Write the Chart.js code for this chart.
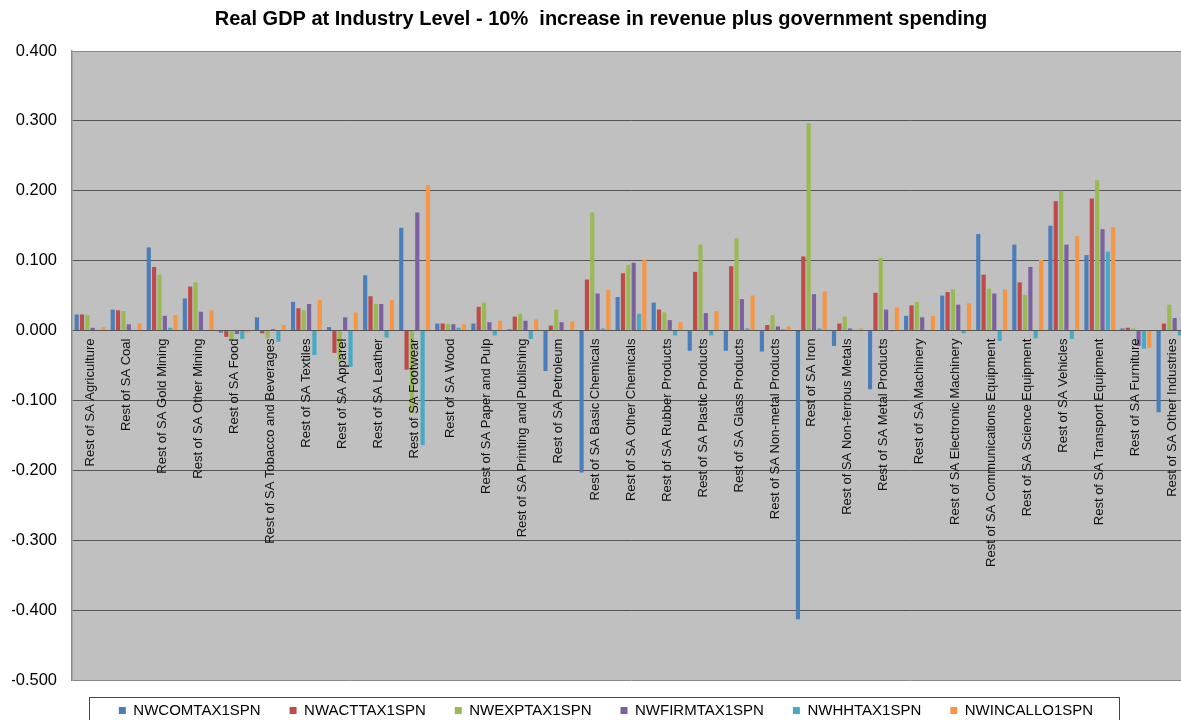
<!DOCTYPE html>
<html>
<head>
<meta charset="utf-8">
<title>Real GDP at Industry Level</title>
<script src="https://cdn.jsdelivr.net/npm/chart.js@4"></script>
<style>
  html, body { margin: 0; padding: 0; background: #fff; overflow: hidden; }
  #wrap { width: 1181px; height: 720px; overflow: hidden; }
</style>
</head>
<body>
<div id="wrap"><canvas id="gdpChart" width="1202" height="734"></canvas></div>
<script>
const industries = [
  "Rest of SA Agriculture", "Rest of SA Coal", "Rest of SA Gold Mining", "Rest of SA Other Mining",
  "Rest of SA Food", "Rest of SA Tobacco and Beverages", "Rest of SA Textiles", "Rest of SA Apparel",
  "Rest of SA Leather", "Rest of SA Footwear", "Rest of SA Wood", "Rest of SA Paper and Pulp",
  "Rest of SA Printing and Publishing", "Rest of SA Petroleum", "Rest of SA Basic Chemicals",
  "Rest of SA Other Chemicals", "Rest of SA Rubber Products", "Rest of SA Plastic Products",
  "Rest of SA Glass Products", "Rest of SA Non-metal Products", "Rest of SA Iron",
  "Rest of SA Non-ferrous Metals", "Rest of SA Metal Products", "Rest of SA Machinery",
  "Rest of SA Electronic Machinery", "Rest of SA Communications Equipment", "Rest of SA Science Equipment",
  "Rest of SA Vehicles", "Rest of SA Transport Equipment", "Rest of SA Furniture", "Rest of SA Other Industries"
];

const seriesNames = ["NWCOMTAX1SPN", "NWACTTAX1SPN", "NWEXPTAX1SPN", "NWFIRMTAX1SPN", "NWHHTAX1SPN", "NWINCALLO1SPN"];

const nwComTax = [0.023, 0.030, 0.119, 0.046, -0.003, 0.019, 0.041, 0.005, 0.079, 0.147, 0.010, 0.010, 0.002, -0.058, -0.203, 0.048,
  0.040, -0.029, -0.029, -0.030, -0.413, -0.022, -0.084, 0.021, 0.050, 0.138, 0.123, 0.150, 0.108, 0.003, -0.117];
const nwActTax = [0.023, 0.029, 0.091, 0.063, -0.009, -0.004, 0.032, -0.032, 0.049, -0.056, 0.010, 0.034, 0.020, 0.007, 0.073, 0.082,
  0.030, 0.084, 0.092, 0.008, 0.106, 0.010, 0.054, 0.036, 0.055, 0.080, 0.069, 0.185, 0.189, 0.004, 0.010];
const nwExpTax = [0.022, 0.028, 0.080, 0.069, -0.013, -0.011, 0.029, -0.044, 0.038, -0.118, 0.009, 0.040, 0.024, 0.030, 0.169, 0.094,
  0.026, 0.123, 0.132, 0.022, 0.297, 0.020, 0.104, 0.041, 0.059, 0.060, 0.051, 0.200, 0.215, 0.003, 0.037];
const nwFirmTax = [0.004, 0.009, 0.021, 0.027, -0.005, 0.002, 0.038, 0.019, 0.038, 0.169, 0.009, 0.012, 0.014, 0.012, 0.053, 0.097,
  0.015, 0.025, 0.045, 0.006, 0.052, 0.003, 0.030, 0.019, 0.037, 0.053, 0.091, 0.123, 0.145, -0.022, 0.018];
const nwHhTax = [0.001, 0.001, 0.004, 0.001, -0.012, -0.016, -0.035, -0.052, -0.010, -0.164, 0.004, -0.007, -0.012, 0.001, 0.003, 0.024,
  -0.007, -0.007, 0.003, 0.002, 0.003, 0.001, -0.001, 0.001, -0.004, -0.015, -0.011, -0.012, 0.113, -0.026, -0.007];
const nwIncAllo = [0.005, 0.010, 0.022, 0.029, -0.003, 0.008, 0.044, 0.026, 0.044, 0.208, 0.009, 0.014, 0.016, 0.013, 0.058, 0.101,
  0.012, 0.028, 0.050, 0.006, 0.056, 0.003, 0.033, 0.021, 0.039, 0.059, 0.101, 0.135, 0.148, -0.025, 0.005];

const yTicks = [0.4, 0.3, 0.2, 0.1, 0, -0.1, -0.2, -0.3, -0.4, -0.5];

const colors = ["#4a7ebb", "#be4b48", "#98b954", "#7d60a0", "#46aac5", "#f69544"];
const allSeries = [nwComTax, nwActTax, nwExpTax, nwFirmTax, nwHhTax, nwIncAllo];

const FONT = "'Liberation Sans', Arial, sans-serif";

// grey plot area like the excel chart
const plotBg = {
  id: "plotBg",
  beforeDraw(chart) {
    const a = chart.chartArea, c = chart.ctx;
    c.save();
    c.fillStyle = "#c0c0c0";
    c.fillRect(a.left, a.top, a.right - a.left, a.bottom - a.top);
    c.restore();
  }
};

// pull the legend up a bit so it sits closer to the plot, and a touch right
const legendNudge = {
  id: "legendNudge",
  afterLayout(chart) {
    const lg = chart.legend;
    if (!lg) return;
    lg.top -= 6;
    lg.bottom -= 6;
    lg.left += 5;
    lg.right += 5;
  }
};

// category names sit rotated just under the zero line
const zeroLabels = {
  id: "zeroLabels",
  afterDatasetsDraw(chart) {
    const c = chart.ctx, xs = chart.scales.x, ys = chart.scales.y;
    const y0 = ys.getPixelForValue(0) + 8;
    c.save();
    c.font = "13px " + FONT;
    c.fillStyle = "#111";
    c.textAlign = "right";
    c.textBaseline = "middle";
    industries.forEach((name, i) => {
      c.save();
      c.translate(xs.getPixelForValue(i), y0);
      c.rotate(-Math.PI / 2);
      c.fillText(name, 0, 0);
      c.restore();
    });
    c.restore();
  }
};

// frame round the legend
const legendFrame = {
  id: "legendFrame",
  afterDraw(chart) {
    const boxes = chart.legend && chart.legend.legendHitBoxes;
    if (!boxes || !boxes.length) return;
    const first = boxes[0], last = boxes[boxes.length - 1];
    const c = chart.ctx;
    c.save();
    c.strokeStyle = "#444";
    c.lineWidth = 1;
    c.strokeRect(Math.round(first.left - 30) + 0.5, Math.round(first.top - 6) + 0.5,
      Math.round(last.left + last.width + 26 - (first.left - 30)), 60);
    c.restore();
  }
};

const ctx = document.getElementById("gdpChart");

const myChart = new Chart(ctx, {
  type: "bar",
  data: {
    labels: industries,
    datasets: seriesNames.map((name, k) => ({
      label: name,
      data: allSeries[k],
      backgroundColor: colors[k],
      borderWidth: 0,
      categoryPercentage: 0.89,
      barPercentage: 0.78
    }))
  },
  options: {
    responsive: false,
    animation: false,
    devicePixelRatio: 1,
    layout: { padding: { left: 12, right: 12, top: 0, bottom: 0 } },
    scales: {
      x: { display: false },
      y: {
        min: -0.5,
        max: 0.4,
        afterFit(scale) { scale.width = 60; },
        afterBuildTicks(scale) { scale.ticks = yTicks.map(v => ({ value: v })); },
        ticks: {
          padding: 15,
          color: "#000",
          font: { family: FONT, size: 16.5 },
          callback: v => Number(v).toFixed(3)
        },
        grid: {
          drawTicks: false,
          lineWidth: 1,
          color: c => (c.tick && (Math.abs(c.tick.value - 0.4) < 1e-9 || Math.abs(c.tick.value + 0.5) < 1e-9)) ? "#8a8a8a" : "#555"
        },
        border: { display: true, color: "#8a8a8a", width: 1.5 }
      }
    },
    plugins: {
      title: {
        display: true,
        text: "Real GDP at Industry Level - 10%  increase in revenue plus government spending",
        color: "#000",
        font: { family: FONT, size: 20, weight: "bold" },
        padding: { top: 7, bottom: 20 }
      },
      legend: {
        position: "bottom",
        labels: {
          color: "#000",
          font: { family: FONT, size: 15 },
          boxWidth: 7,
          boxHeight: 7,
          padding: 29
        }
      },
      tooltip: { enabled: false }
    }
  },
  plugins: [plotBg, legendNudge, zeroLabels, legendFrame]
});
</script>
</body>
</html>
